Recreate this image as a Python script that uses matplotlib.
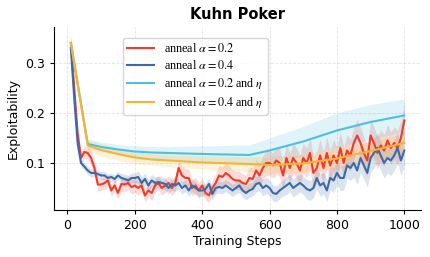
import matplotlib
matplotlib.use("Agg")
import matplotlib.pyplot as plt
import numpy as np

# pasos de entrenamiento (series ruidosas, cada 10 pasos)
steps = np.arange(10, 1001, 10)

red_mean = [
    0.340, 0.250, 0.160, 0.110, 0.122, 0.120, 0.110, 0.090, 0.057, 0.057,
    0.060, 0.065, 0.045, 0.055, 0.040, 0.058, 0.057, 0.060, 0.052, 0.055,
    0.050, 0.055, 0.035, 0.045, 0.040, 0.055, 0.060, 0.050, 0.055, 0.060,
    0.050, 0.060, 0.090, 0.075, 0.070, 0.070, 0.050, 0.055, 0.045, 0.055,
    0.040, 0.035, 0.050, 0.060, 0.075, 0.072, 0.080, 0.075, 0.068, 0.065,
    0.065, 0.060, 0.058, 0.070, 0.068, 0.085, 0.075, 0.090, 0.100, 0.100,
    0.095, 0.105, 0.100, 0.075, 0.110, 0.090, 0.110, 0.100, 0.085, 0.110,
    0.100, 0.120, 0.080, 0.090, 0.115, 0.090, 0.120, 0.095, 0.115, 0.100,
    0.130, 0.100, 0.125, 0.115, 0.140, 0.155, 0.140, 0.120, 0.105, 0.155,
    0.140, 0.120, 0.135, 0.125, 0.145, 0.130, 0.140, 0.130, 0.150, 0.185,
]
red_err = [
    0.015, 0.015, 0.015, 0.012, 0.012, 0.012, 0.015, 0.015, 0.012, 0.012,
    0.012, 0.012, 0.012, 0.012, 0.012, 0.014, 0.014, 0.014, 0.014, 0.014,
    0.014, 0.014, 0.012, 0.014, 0.014, 0.014, 0.014, 0.014, 0.014, 0.014,
    0.016, 0.016, 0.018, 0.018, 0.018, 0.018, 0.016, 0.016, 0.016, 0.016,
    0.014, 0.014, 0.016, 0.018, 0.020, 0.020, 0.020, 0.020, 0.018, 0.018,
    0.018, 0.018, 0.018, 0.022, 0.022, 0.022, 0.022, 0.025, 0.025, 0.025,
    0.025, 0.028, 0.028, 0.028, 0.030, 0.030, 0.030, 0.030, 0.030, 0.030,
    0.030, 0.032, 0.032, 0.032, 0.032, 0.032, 0.032, 0.032, 0.032, 0.032,
    0.032, 0.032, 0.032, 0.032, 0.032, 0.032, 0.032, 0.032, 0.032, 0.032,
    0.032, 0.032, 0.032, 0.032, 0.032, 0.032, 0.032, 0.035, 0.035, 0.035,
]

blue_mean = [
    0.330, 0.230, 0.140, 0.100, 0.093, 0.085, 0.080, 0.080, 0.078, 0.075,
    0.075, 0.070, 0.072, 0.068, 0.075, 0.070, 0.068, 0.065, 0.070, 0.070,
    0.072, 0.060, 0.068, 0.055, 0.065, 0.060, 0.062, 0.060, 0.058, 0.050,
    0.058, 0.055, 0.060, 0.050, 0.055, 0.045, 0.055, 0.050, 0.045, 0.045,
    0.048, 0.058, 0.038, 0.050, 0.052, 0.050, 0.055, 0.050, 0.045, 0.050,
    0.055, 0.045, 0.040, 0.045, 0.048, 0.058, 0.060, 0.050, 0.055, 0.050,
    0.040, 0.038, 0.045, 0.050, 0.055, 0.060, 0.050, 0.055, 0.060, 0.055,
    0.048, 0.045, 0.050, 0.070, 0.055, 0.060, 0.045, 0.070, 0.065, 0.080,
    0.070, 0.070, 0.095, 0.090, 0.100, 0.085, 0.110, 0.095, 0.080, 0.110,
    0.120, 0.130, 0.115, 0.100, 0.110, 0.105, 0.115, 0.130, 0.105, 0.125,
]
blue_err = [
    0.012, 0.012, 0.010, 0.008, 0.008, 0.008, 0.008, 0.008, 0.008, 0.008,
    0.008, 0.008, 0.008, 0.008, 0.008, 0.008, 0.010, 0.010, 0.010, 0.010,
    0.012, 0.012, 0.012, 0.012, 0.012, 0.012, 0.012, 0.012, 0.012, 0.012,
    0.012, 0.012, 0.012, 0.012, 0.012, 0.012, 0.012, 0.012, 0.012, 0.012,
    0.012, 0.012, 0.012, 0.012, 0.012, 0.012, 0.012, 0.012, 0.012, 0.012,
    0.014, 0.014, 0.014, 0.014, 0.014, 0.016, 0.016, 0.016, 0.016, 0.016,
    0.016, 0.016, 0.016, 0.016, 0.018, 0.018, 0.018, 0.018, 0.018, 0.018,
    0.020, 0.020, 0.020, 0.022, 0.022, 0.022, 0.022, 0.024, 0.024, 0.024,
    0.025, 0.025, 0.025, 0.025, 0.028, 0.028, 0.028, 0.028, 0.028, 0.028,
    0.030, 0.030, 0.030, 0.030, 0.030, 0.030, 0.030, 0.030, 0.030, 0.030,
]

# series suaves (annealing de alpha y eta)
steps_smooth = [10, 60, 100, 150, 200, 250, 300, 400, 540, 600, 700, 800, 900, 1000]
cyan_mean = [0.340, 0.138, 0.132, 0.127, 0.123, 0.121, 0.120, 0.118, 0.116,
             0.125, 0.143, 0.165, 0.182, 0.195]
cyan_err = [0.012, 0.010, 0.010, 0.010, 0.011, 0.012, 0.013, 0.016, 0.020,
            0.025, 0.030, 0.035, 0.035, 0.033]
yellow_mean = [0.340, 0.135, 0.126, 0.118, 0.111, 0.107, 0.105, 0.101, 0.098,
               0.096, 0.099, 0.109, 0.124, 0.140]
yellow_err = [0.014, 0.012, 0.012, 0.012, 0.012, 0.012, 0.012, 0.013, 0.015,
              0.016, 0.018, 0.020, 0.020, 0.020]

labels = [r"anneal $\alpha=0.2$", r"anneal $\alpha=0.4$",
          r"anneal $\alpha=0.2$ and $\eta$", r"anneal $\alpha=0.4$ and $\eta$"]
colors = ['#ee3b2b', '#3c6aa5', '#4fbfdb', '#f5b530']

plt.rcParams['mathtext.fontset'] = 'stix'

fig = plt.figure(figsize=(4.3, 2.57), dpi=100)
ax = fig.add_axes([0.126, 0.183, 0.853, 0.712])

series = [
    (steps, red_mean, red_err),
    (steps, blue_mean, blue_err),
    (steps_smooth, cyan_mean, cyan_err),
    (steps_smooth, yellow_mean, yellow_err),
]
for (x, m, e), c, lab in zip(series, colors, labels):
    m = np.array(m)
    e = np.array(e)
    ax.fill_between(x, m - e, m + e, color=c, alpha=0.18, linewidth=0)
    ax.plot(x, m, color=c, linewidth=1.5, label=lab)

ax.set_ylim(0.006, 0.372)
ax.set_yticks([0.1, 0.2, 0.3])
ax.set_xticks([0, 200, 400, 600, 800, 1000])
ax.tick_params(labelsize=9, length=3)

ax.set_xlabel('Training Steps', fontsize=9, labelpad=2)
ax.set_ylabel('Exploitability', fontsize=9, labelpad=4)
ax.set_title('Kuhn Poker', fontsize=10.5, fontweight='bold', pad=6)

ax.grid(True, alpha=0.35, linestyle='--', linewidth=0.6)
ax.set_axisbelow(True)
ax.spines['top'].set_visible(False)
ax.spines['right'].set_visible(False)

ax.legend(loc='upper left', bbox_to_anchor=(0.17, 0.975),
          prop={'family': 'Liberation Serif', 'size': 8.7},
          handlelength=2.2, labelspacing=0.32, borderpad=0.4, framealpha=0.8)

fig.savefig('out.png', dpi=100)
